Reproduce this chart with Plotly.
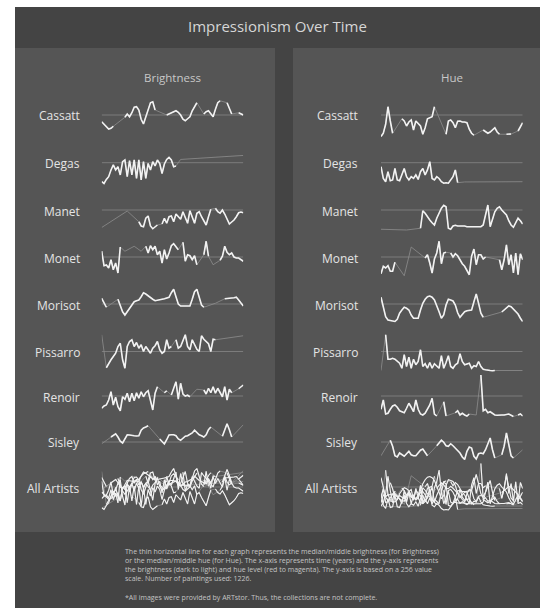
import plotly.graph_objects as go

YEARS = list(range(1855, 1917))
ARTISTS = ["Cassatt", "Degas", "Manet", "Monet", "Morisot", "Pissarro", "Renoir", "Sisley"]
N = None

B_CASSATT = [105, 96, 85, 76, 79, 87, N, N, N, N,
             123, 136, 125, 141, 163, 165, 152, 115, 96, 125, 159, 181, 185, 152,
             N, N, N, N,
             132, 136, 139, 144, 149, 143, 132, 115, 109, 117, 125, 149, 168, 181,
             N, N, 136, 145, 149, 136, 125, 155, 181, 189, N, N, 181, 159, 136, N, N, 141, 136, 132]
B_DEGAS = [42, 35, 51, 62, 89, 109, 89, 102, 69, 122, 129, 62, 126, 69, 129, 55, 129, 49, 122, 55,
           115, 89, 122, 105, 129, 115, 75, 113, 131, 139, 129, 102, 105, N, 131] + [N] * 26 + [147]
B_MANET = [40] + [N] * 10 + [106, N, N, N, N,
           63, 46, 43, 77, 86, 46, 35, 43, 50, N, 54, 77, 57, 83, 86, 63, 94, 83, 73, 103,
           77, 57, 107, 77, 57, 97, 103, 83, 67, 50, 83, 113, N,
           117, 103, 97, 110, 94, 73, 54, 62, 70, 83, 99, 102, 99]
B_MONET = [148, 90, 93, 81, 114, 74, 101, 61, 165, N, 148, N, N, N, 168, N, N, 148, N,
           168, 141, 170, 154, 168, 134, 148, 101, 154, 117, 141, 170, 178, 168, 154, N,
           184, 108, 134, 130, 114, 130, 94, N, N, 134, 188, 128, N, 94, N, N,
           112, 128, 168, 144, 134, 141, 125, 121, 121, 114, 108]
B_MORISOT = [163, 145, 127, N, N, N, N,
             159, 132, 109, 96, 109, 123, 136, 149, 153, 156, 169, 185, 180, 172, 167, 159, 153, 156,
             159, 159, 161, 163, 167, 185, 199, 169, 140, 132, 132, 132, 132, 132, 159, 189, 199, 163,
             136, 127, N, N, N, N, 143, N, N, N, 161, 163, 164, 164, 165, 167, 156, 143, 132]
B_PISSARRO = [187, N, 55, 73, 87, 100, 113, 140, 153, 87, 53, 140, 160, 167, 140, 156, 133, 147, 120,
              140, 127, 113, 133, 143, 160, 127, 113, 120, 167, 133, 140, N, 167, 133, 140, 160, 187,
              140, 127, 167, 147, 129, 120, 183, 169, 160, 151, 120, 169, 167] + [N] * 11 + [183]
B_RENOIR = [79, 88, 92, 112, 145, 92, 123, 85, 69, 125, 115, 139, 105, 139, 109, 141, 119, 145, 125,
            141, 149, 115, 72, 139, 165, N, N, 141, 149, N,
            132, 163, 185, 115, 179, 136, 128, 131, 125, N, N, 155, N, N,
            152, 136, 159, 141, 165, 139, 159, 139, 125, 165, 112, 155, 141, N, N, 157, 165, 172]
B_SISLEY = [115, N, N, N, 142, 147, 155, 142, 125, 118, 134, 151, 150, 147, 147, 146, 147, 169, 178,
            182, 187, N, N, N, N,
            134, 123, 114, 131, 150, 151, 151, 147, 134, 129, 138, 145, 147, 151, 158, 169, 161, 151,
            147, 142, 151, 171, 182, N, N, N, N, 145, 171, 195, 171, 142, N, N, N, N, 191]

H_CASSATT = [24, 37, 73, 143, 86, 37, N, N, N,
             95, 86, 66, 82, 90, 50, 86, 77, 66, 33, 59, 95, 98, 103, 143, N, N, N, N,
             33, 86, 90, 79, 59, 85, 86, 82, 82, 79, 53, 37, 29, N, N, N,
             50, 42, 37, 42, 50, 59, 42, 33, N, N, 33, 34, 34, N, N, 46, 62, 79]
H_DEGAS = [74, 27, 14, 54, 18, 21, 67, 21, 18, 41, 67, 34, 21, 34, 27, 41, 23, 54, 67, 41,
           61, 94, 27, 21, 34, 27, 14, 8, 10, 8, 21, 34, 61, 10, N, N, 13] + [N] * 24 + [14]
H_MANET = [23] + [N] * 10 + [20, N, N, N, N, N,
           27, 97, 87, 71, 60, 49, 40, 67, 89, 107, 119, 113, 27, 23, 36, 39, 36, 37, 36, 36,
           33, 33, 31, 33, 31, 33, 33, 40, 87, 120, 33, 67, 93, 107, 113, 100, 89, 80, 57, 40,
           31, 49, 67, 57, 44]
H_MONET = [38, 68, 61, 70, 48, 48, 84, N, N, N, 30, N, N, 145, N, N, N, N, N,
           101, 114, 81, 41, 97, 121, 168, 78, 121, 124, N,
           121, 105, 118, 110, 94, 78, 68, 48, 34, 108, 137, 74, 114, 114, 97, 105, N, N, 101, N, N,
           94, 54, 94, 154, 74, 114, 41, 121, 34, 118, 94]
H_MORISOT = [137, 99, 59, 46, 43, 41, 40, 49, 73, 86, 97, 93, 86, 66, 53, 53, 53, 86, 113, 129,
             139, 142, 137, 126, 106, 79, 53, 66, 106, 129, 126, 122, 106, 75, 57, 66, 79, 83, 83, 86,
             119, 150, 113, 73, 57, N, N, N, 66, N, N, N, 78, 86, 93, 102, 99, 89, 79, 70, 53, 40]
H_PISSARRO = [24, N, 167, 69, 69, 73, 69, 60, 53, 33, 87, 40, 77, 33, 69, 47, 60, 107, 40, 51,
              33, 56, 33, 51, 43, 33, 83, 33, 56, 83, 40, 33, 47, 53, 91, 60, 47, 51, 53, 33,
              43, 40, 60, 40, 29, 27, 24, 24, 23, 24] + [N] * 11 + [24]
H_RENOIR = [57, 94, 38, 41, 57, 70, 74, 65, 51, 47, 43, 61, 81, 65, 47, 94, 57, 38, 34, 41,
            57, 74, 101, 38, 30, N, N, 87, 30, N, N, N, 43, 51, 34, 41, 34, 30, 38, N, N, 34, N,
            194, 51, 57, 43, 47, 41, 34, 33, 35, 34, 34, 35, 38, 33, 28, N, 34, 38, 30]
H_SISLEY = [55, N, N, N, 117, 93, 55, 50, 66, 59, 53, 63, 73, 59, 55, 55, 66, 77, 82, 69, 55, N, N, N,
            95, 106, 117, 109, 95, 93, 103, 95, 86, 77, 66, 50, 40, 73, 90, 86, 53, 42, 63, 66,
            63, 79, 106, 126, 79, 46, N, N, 59, 93, 146, 99, 55, 46, N, N, N, 79]

BRIGHTNESS = [B_CASSATT, B_DEGAS, B_MANET, B_MONET, B_MORISOT, B_PISSARRO, B_RENOIR, B_SISLEY]
HUE = [H_CASSATT, H_DEGAS, H_MANET, H_MONET, H_MORISOT, H_PISSARRO, H_RENOIR, H_SISLEY]
MEDIAN_B = [132, 118, 110, 125, 140, 120, 128, 122]
MEDIAN_H = [110, 90, 100, 105, 110, 100, 110, 110]
MEDIAN_B_ALL = 125
MEDIAN_H_ALL = 100

TITLE = "Impressionism Over Time"
NOTE = ("The thin horizontal line for each graph represents the median/middle brightness (for Brightness)<br>"
        "or the median/middle hue (for Hue). The x-axis represents time (years) and the y-axis represents<br>"
        "the brightness (dark to light) and hue level (red to magenta). The y-axis is based on a 256 value<br>"
        "scale. Number of paintings used: 1226.<br><br>"
        "*All images were provided by ARTstor. Thus, the collections are not complete.")

# ---------------- layout helpers ----------------
W, H = 540, 608
FONT = "Open Sans"
ROW_Y = [115, 162.7, 210, 257, 304, 351.5, 396, 442, 487]
HALF = 30        # px half-height of each sparkline band
SCALE = 4.0      # value units per px
COLS = {"B": (101.7, 243.3, 82), "H": (381.0, 522.7, 360)}

def px(x):
    return x / W

def py(y):
    return 1 - y / H

fig = go.Figure()
layout_axes = {}
ax_i = [0]

def add_spark(col, row, series_list, med, width):
    ax_i[0] += 1
    i = ax_i[0]
    xs = "x" if i == 1 else f"x{i}"
    ys = "y" if i == 1 else f"y{i}"
    x0, x1, _ = COLS[col]
    yc = ROW_Y[row]
    layout_axes["xaxis" if i == 1 else f"xaxis{i}"] = dict(
        domain=[px(x0), px(x1)], range=[YEARS[0], YEARS[-1]], visible=False,
        fixedrange=True, anchor=ys)
    layout_axes["yaxis" if i == 1 else f"yaxis{i}"] = dict(
        domain=[py(yc + HALF), py(yc - HALF)],
        range=[med - HALF * SCALE, med + HALF * SCALE], visible=False,
        fixedrange=True, anchor=xs)
    fig.add_trace(go.Scatter(x=[YEARS[0], YEARS[-1]], y=[med, med], mode="lines",
                             line=dict(color="#7c7c7c", width=1), xaxis=xs, yaxis=ys,
                             hoverinfo="skip"))
    for s in series_list:
        fig.add_trace(go.Scatter(x=YEARS, y=s, mode="lines", connectgaps=True,
                                 line=dict(color="#8e8e8e", width=0.8), xaxis=xs, yaxis=ys,
                                 hoverinfo="skip"))
    for s in series_list:
        fig.add_trace(go.Scatter(x=YEARS, y=s, mode="lines", connectgaps=False,
                                 line=dict(color="#f2f2f2", width=width), xaxis=xs, yaxis=ys,
                                 hoverinfo="skip"))

for r in range(8):
    add_spark("B", r, [BRIGHTNESS[r]], MEDIAN_B[r], 1.6)
add_spark("B", 8, BRIGHTNESS, MEDIAN_B_ALL, 1.1)
for r in range(8):
    add_spark("H", r, [HUE[r]], MEDIAN_H[r], 1.6)
add_spark("H", 8, HUE, MEDIAN_H_ALL, 1.1)

shapes = [
    dict(type="rect", xref="paper", yref="paper", x0=px(15), x1=px(540), y0=py(608), y1=py(7),
         fillcolor="#444444", line=dict(width=0), layer="below"),
    dict(type="rect", xref="paper", yref="paper", x0=px(15), x1=px(275), y0=py(532), y1=py(48),
         fillcolor="#555555", line=dict(width=0), layer="below"),
    dict(type="rect", xref="paper", yref="paper", x0=px(293), x1=px(540), y0=py(532), y1=py(48),
         fillcolor="#555555", line=dict(width=0), layer="below"),
]

ann = [
    dict(text=TITLE, x=px(277.5), y=py(26), xref="paper", yref="paper", showarrow=False,
         font=dict(family=FONT, size=15, color="#d6d6d6"), xanchor="center", yanchor="middle"),
    dict(text="Brightness", x=px(172.5), y=py(77), xref="paper", yref="paper", showarrow=False,
         font=dict(family=FONT, size=11.5, color="#c8c8c8"), xanchor="center", yanchor="middle"),
    dict(text="Hue", x=px(452), y=py(77), xref="paper", yref="paper", showarrow=False,
         font=dict(family=FONT, size=11.5, color="#c8c8c8"), xanchor="center", yanchor="middle"),
    dict(text=NOTE, x=px(123), y=py(545), xref="paper", yref="paper", showarrow=False,
         align="left", font=dict(family=FONT, size=7, color="#c4c4c4"),
         xanchor="left", yanchor="top"),
]
labels = ARTISTS + ["All Artists"]
for col in ("B", "H"):
    lx = COLS[col][2]
    for r, name in enumerate(labels):
        ann.append(dict(text=name, x=px(lx), y=py(ROW_Y[r] + 1), xref="paper", yref="paper",
                        showarrow=False, font=dict(family=FONT, size=12, color="#e4e4e4"),
                        xanchor="right", yanchor="middle"))

fig.update_layout(width=W, height=H, margin=dict(l=0, r=0, t=0, b=0),
                  paper_bgcolor="white", plot_bgcolor="rgba(0,0,0,0)", showlegend=False,
                  shapes=shapes, annotations=ann, **layout_axes)
fig.write_html("out.html", config={"displayModeBar": False, "responsive": False},
               post_script=("document.documentElement.style.overflow='hidden';"
                            "document.body.style.margin='0';"
                            "document.body.style.overflow='hidden';"
                            "document.body.style.background='#555555';"))
